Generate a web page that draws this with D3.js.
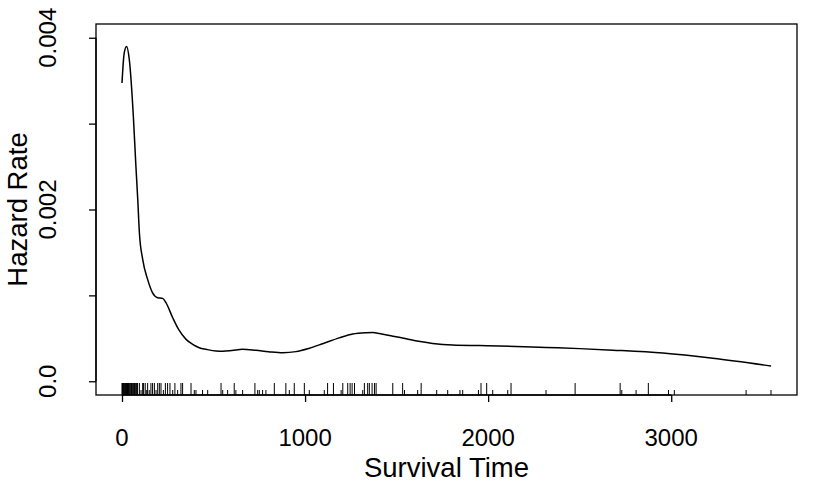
<!DOCTYPE html>
<html><head><meta charset="utf-8">
<script src="https://cdn.jsdelivr.net/npm/d3@7"></script>
<style>
html,body{margin:0;padding:0;background:#fff;}
text{font-family:"Liberation Sans",Arial,Helvetica,sans-serif;fill:#000;}
</style></head>
<body>
<svg id="chart" width="827" height="491"></svg>
<script>
// ---- data ----
const curveTime = [0, 12, 25, 40, 62, 76, 86, 95, 113, 140, 167, 195, 222, 240, 277, 310, 350, 386, 422, 459, 514, 550, 600, 659, 732, 800, 878, 950, 1024, 1100, 1187, 1260, 1333, 1370, 1406, 1480, 1552, 1620, 1697, 1807, 1952, 2062, 2317, 2500, 2681, 2954, 3227, 3545];
const curveHazard = [0.003473, 0.00382, 0.003899, 0.003744, 0.003085, 0.002503, 0.00212, 0.00173, 0.00142, 0.001186, 0.00103, 0.000973, 0.000965, 0.000915, 0.00074, 0.0006, 0.000488, 0.00043, 0.000391, 0.000372, 0.000352, 0.00035, 0.000358, 0.000372, 0.00036, 0.000345, 0.000333, 0.000345, 0.000385, 0.00044, 0.000505, 0.00055, 0.000565, 0.000567, 0.000557, 0.000525, 0.000495, 0.000465, 0.000441, 0.000422, 0.000415, 0.00041, 0.000393, 0.00038, 0.000362, 0.000328, 0.000268, 0.000178];
const rugTall = [0, 3, 6, 9, 12, 15, 18, 21, 24, 27, 30, 33, 36, 40, 44, 48, 52, 56, 60, 64, 68, 72, 76, 80, 85, 95, 113, 118, 127, 140, 158, 167, 177, 195, 204, 213, 237, 249, 262, 289, 322, 331, 377, 541, 613, 726, 832, 895, 941, 996, 1123, 1155, 1206, 1233, 1246, 1257, 1270, 1324, 1342, 1351, 1366, 1379, 1388, 1479, 1533, 1634, 1961, 1992, 2125, 2475, 2721, 2875];
const rugShort = [104, 135, 149, 186, 226, 277, 304, 395, 404, 440, 468, 550, 577, 622, 659, 741, 750, 768, 786, 914, 1023, 1105, 1197, 1315, 1543, 1615, 1719, 1779, 1846, 1861, 1947, 2025, 2107, 2316, 2730, 2808, 2985, 3017, 3409, 3545];
const xTickValues = [0, 1000, 2000, 3000];
const xTickLabels = ["0", "1000", "2000", "3000"];
const yTickValues = [0, 0.001, 0.002, 0.003, 0.004];
const yTickLabels = ["0.0", "", "0.002", "", "0.004"];
const xTitle = "Survival Time";
const yTitle = "Hazard Rate";

// ---- layout ----
const svg = d3.select("#chart");
const L = 96, R = 797, T = 24, B = 395;
const x = d3.scaleLinear().domain([-142, 3687]).range([L, R]);
const y = d3.scaleLinear().domain([-0.00016, 0.00416]).range([B, T]);
const fsTick = 24, fsTitle = 27.5;

// box
svg.append("rect").attr("x", L).attr("y", T).attr("width", R - L).attr("height", B - T)
  .attr("fill", "none").attr("stroke", "#000").attr("stroke-width", 1.3);

// x axis
const xAxis = d3.axisBottom(x).tickValues(xTickValues).tickSize(7).tickFormat("");
const gx = svg.append("g").attr("transform", `translate(0,${B})`).call(xAxis);
gx.select(".domain").remove();
gx.selectAll(".tick line").attr("stroke-width", 1.3);
svg.append("line").attr("x1", x(xTickValues[0])).attr("x2", x(xTickValues[xTickValues.length-1]))
  .attr("y1", B).attr("y2", B).attr("stroke", "#000").attr("stroke-width", 1.3);
svg.selectAll(".xlab").data(xTickValues).enter().append("text")
  .attr("x", d => x(d)).attr("y", 438).attr("dy", "0.35em")
  .attr("text-anchor", "middle").attr("font-size", fsTick)
  .text((d, i) => xTickLabels[i]);

// y axis
const yAxis = d3.axisLeft(y).tickValues(yTickValues).tickSize(7).tickFormat("");
const gy = svg.append("g").attr("transform", `translate(${L},0)`).call(yAxis);
gy.select(".domain").remove();
gy.selectAll(".tick line").attr("stroke-width", 1.3);
svg.append("line").attr("y1", y(yTickValues[0])).attr("y2", y(yTickValues[yTickValues.length-1]))
  .attr("x1", L).attr("x2", L).attr("stroke", "#000").attr("stroke-width", 1.3);
svg.selectAll(".ylab").data(yTickValues).enter().append("text")
  .attr("transform", d => `translate(47.5,${y(d)}) rotate(-90)`)
  .attr("dy", "0.35em").attr("text-anchor", "middle").attr("font-size", fsTick)
  .text((d, i) => yTickLabels[i]);

// titles
svg.append("text").attr("x", (L + R) / 2).attr("y", 467).attr("dy", "0.35em")
  .attr("text-anchor", "middle").attr("font-size", fsTitle).text(xTitle);
svg.append("text").attr("transform", `translate(17,${(T + B) / 2}) rotate(-90)`)
  .attr("dy", "0.35em").attr("text-anchor", "middle").attr("font-size", fsTitle).text(yTitle);

// rug
svg.append("g").selectAll("line").data(rugTall).enter().append("line")
  .attr("x1", d => x(d)).attr("x2", d => x(d)).attr("y1", B).attr("y2", B - 12)
  .attr("stroke", "#000").attr("stroke-width", 1);
svg.append("g").selectAll("line").data(rugShort).enter().append("line")
  .attr("x1", d => x(d)).attr("x2", d => x(d)).attr("y1", B).attr("y2", B - 5)
  .attr("stroke", "#000").attr("stroke-width", 1);

// hazard curve
const pts = curveTime.map((t, i) => [t, curveHazard[i]]);
const line = d3.line().x(d => x(d[0])).y(d => y(d[1])).curve(d3.curveMonotoneX);
svg.append("path").datum(pts).attr("d", line).attr("fill", "none")
  .attr("stroke", "#000").attr("stroke-width", 1.5);
</script>
</body></html>
